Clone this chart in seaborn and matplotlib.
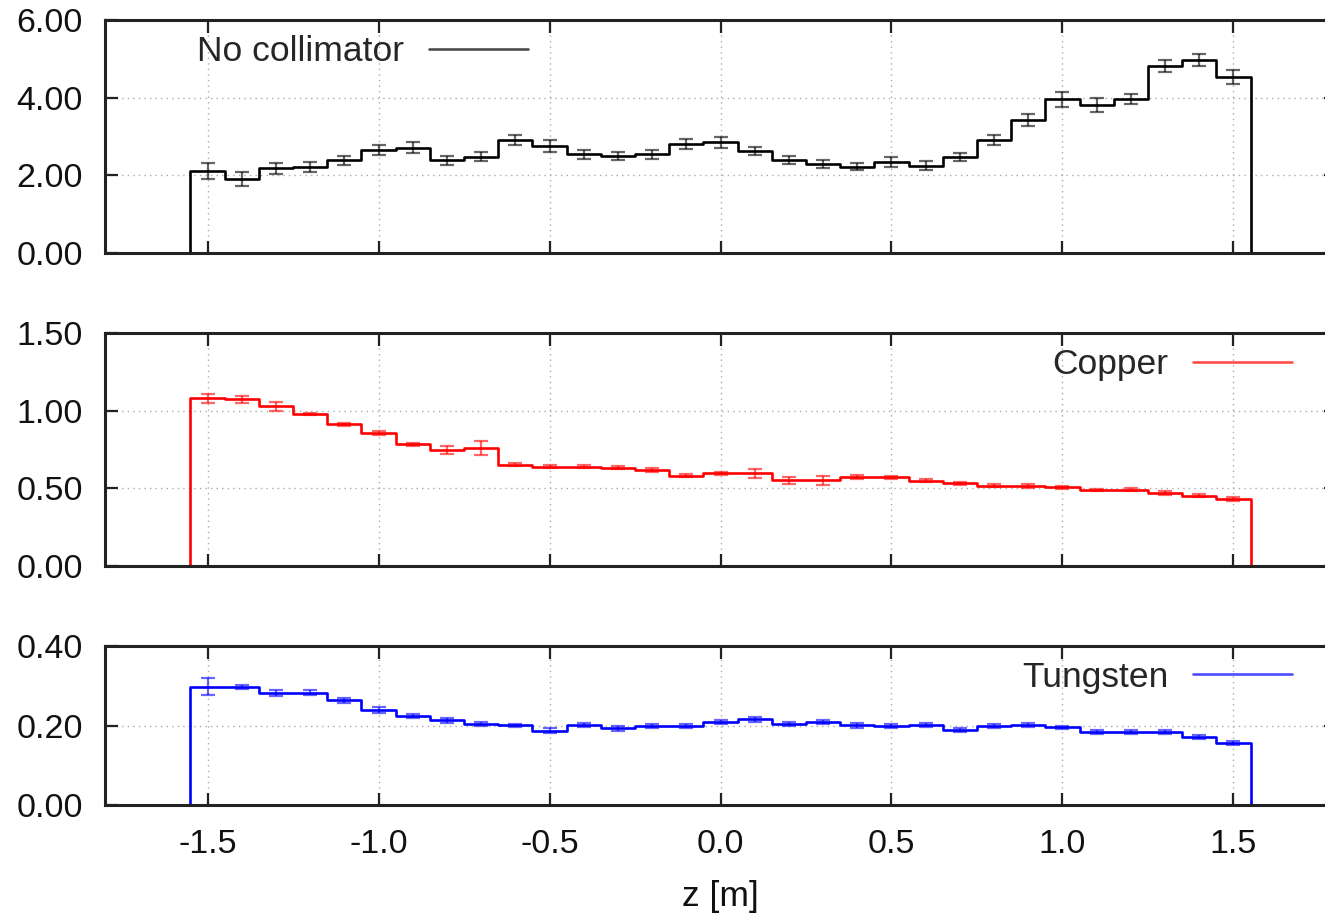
import numpy as np
import pandas as pd
import matplotlib
matplotlib.use("Agg")
import matplotlib.pyplot as plt
from matplotlib.lines import Line2D
from matplotlib.ticker import FormatStrFormatter
import seaborn as sns

# Bin edges along the beam axis z [m] (31 bins of 0.1 m)
edges = np.linspace(-1.55, 1.55, 32)

no_collimator = [2.11, 1.90, 2.18, 2.22, 2.39, 2.65, 2.71, 2.39, 2.48, 2.91, 2.76,
                 2.54, 2.50, 2.54, 2.81, 2.85, 2.63, 2.39, 2.29, 2.22, 2.34,
                 2.25, 2.48, 2.91, 3.42, 3.96, 3.81, 3.97, 4.82, 4.97, 4.54]
no_collimator_err = [0.20, 0.18, 0.15, 0.13, 0.12, 0.12, 0.14, 0.12, 0.12, 0.14, 0.15,
                     0.11, 0.10, 0.11, 0.12, 0.14, 0.10, 0.10, 0.10, 0.09, 0.12,
                     0.11, 0.10, 0.13, 0.15, 0.19, 0.17, 0.13, 0.16, 0.15, 0.18]

copper = [1.080, 1.073, 1.028, 0.979, 0.912, 0.856, 0.783, 0.745, 0.758, 0.652, 0.640,
          0.640, 0.633, 0.618, 0.580, 0.597, 0.597, 0.552, 0.552, 0.575, 0.571,
          0.550, 0.532, 0.517, 0.515, 0.507, 0.489, 0.490, 0.470, 0.453, 0.430]
copper_err = [0.028, 0.021, 0.028, 0.008, 0.008, 0.010, 0.008, 0.027, 0.046, 0.010, 0.010,
              0.010, 0.010, 0.012, 0.010, 0.008, 0.029, 0.024, 0.030, 0.012, 0.010,
              0.010, 0.010, 0.010, 0.010, 0.010, 0.008, 0.010, 0.010, 0.008, 0.012]

tungsten = [0.298, 0.297, 0.281, 0.283, 0.263, 0.239, 0.223, 0.213, 0.203, 0.200, 0.187,
            0.202, 0.193, 0.199, 0.198, 0.210, 0.216, 0.203, 0.209, 0.200, 0.198,
            0.201, 0.188, 0.198, 0.201, 0.195, 0.183, 0.184, 0.184, 0.172, 0.156]
tungsten_err = [0.021, 0.005, 0.008, 0.007, 0.006, 0.007, 0.005, 0.006, 0.005, 0.005, 0.006,
                0.005, 0.006, 0.005, 0.005, 0.005, 0.006, 0.005, 0.005, 0.006, 0.005,
                0.005, 0.005, 0.005, 0.006, 0.005, 0.005, 0.005, 0.005, 0.005, 0.006]

labels = ["No collimator", "Copper", "Tungsten"]
colors = ["#000000", "#ff0000", "#0000ff"]
y_ticks = [[0, 2, 4, 6], [0, 0.5, 1.0, 1.5], [0, 0.2, 0.4]]
x_ticks = [-1.5, -1.0, -0.5, 0.0, 0.5, 1.0, 1.5]

sns.set_theme(style="ticks")
plt.rcParams["font.family"] = ["Liberation Sans", "DejaVu Sans"]

W, H = 1325, 914
AXW = 1231  # axes width in pixels; the right end runs past the canvas edge
fig = plt.figure(figsize=(W / 100, H / 100), dpi=100)
left = 105 / W
width = AXW / W
ax1 = fig.add_axes([left, 1 - 253 / H, width, 233 / H])
ax2 = fig.add_axes([left, 1 - 566 / H, width, 233 / H])
ax3 = fig.add_axes([left, 1 - 805 / H, width, 159 / H])
axes = [ax1, ax2, ax3]

series = [(no_collimator, no_collimator_err), (copper, copper_err), (tungsten, tungsten_err)]
legend_anchor = [(92 / AXW, 0.865), ((1292 - 105) / AXW, 0.865), ((1292 - 105) / AXW, 0.805)]
legend_loc = ["center left", "center right", "center right"]

centers = 0.5 * (edges[:-1] + edges[1:])
# one empty bin on each side closes the histogram outline down to zero
pad_edges = np.concatenate([[edges[0] - 0.1], edges, [edges[-1] + 0.1]])
pad_centers = 0.5 * (pad_edges[:-1] + pad_edges[1:])

for ax, (vals, errs), lab, col, yt, loc, anchor in zip(
        axes, series, labels, colors, y_ticks, legend_loc, legend_anchor):
    df = pd.DataFrame({"z": pad_centers,
                       "w": np.concatenate([[0.0], vals, [0.0]])})
    sns.histplot(data=df, x="z", weights="w", bins=pad_edges.tolist(), element="step",
                 fill=False, color=col, linewidth=1.9, ax=ax, zorder=2)
    ax.errorbar(centers, vals, yerr=errs, fmt="none", ecolor=col, alpha=0.6,
                elinewidth=1.6, capsize=5, capthick=1.6, zorder=2.2)

    ax.set_xlim(-1.8, 1.8)
    ax.set_ylim(yt[0], yt[-1])
    ax.set_xticks(x_ticks)
    ax.set_yticks(yt)
    ax.yaxis.set_major_formatter(FormatStrFormatter("%.2f"))
    ax.xaxis.set_major_formatter(FormatStrFormatter("%.1f"))
    ax.grid(True, color="#aaaaaa", linestyle=(0, (1, 3)), linewidth=1.0)
    ax.set_axisbelow(True)
    ax.tick_params(axis="both", which="major", direction="in", top=True, right=True,
                   length=9, width=1.6, color="#222222", labelsize=24.5,
                   labelcolor="#111111")
    ax.tick_params(axis="y", pad=16)
    ax.tick_params(axis="x", pad=17)
    for sp in ax.spines.values():
        sp.set_linewidth(2.2)
        sp.set_color("#222222")
        sp.set_zorder(3)
    ax.set_ylabel("")
    ax.set_xlabel("")

    handle = Line2D([0], [0], color=col, linewidth=1.9, alpha=0.7)
    ax.legend([handle], [lab], loc=loc, bbox_to_anchor=anchor, frameon=False,
              markerfirst=False, fontsize=25.5, handlelength=2.8, handletextpad=0.7,
              borderpad=0, borderaxespad=0)

ax1.tick_params(axis="x", labelbottom=False)
ax2.tick_params(axis="x", labelbottom=False)
ax3.set_xlabel("z [m]", fontsize=25.5, color="#111111")
ax3.xaxis.set_label_coords((720 - 105) / AXW, -0.47)

fig.savefig("out.png", dpi=100)
